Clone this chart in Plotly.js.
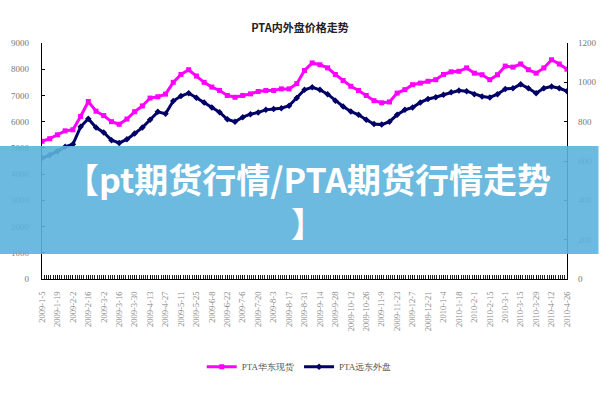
<!DOCTYPE html>
<html>
<head>
<meta charset="utf-8">
<script src="https://cdn.plot.ly/plotly-3.0.1.min.js"></script>
<style>
html,body{margin:0;padding:0;background:#fff;}
#chart{width:600px;height:400px;}
</style>
</head>
<body>
<div id="chart"></div>
<script>
// Weekly dates
var dates = [
 "2009-01-05","2009-01-12","2009-01-19","2009-01-26","2009-02-02","2009-02-09","2009-02-16","2009-02-23",
 "2009-03-02","2009-03-09","2009-03-16","2009-03-23","2009-03-30","2009-04-06","2009-04-13","2009-04-20",
 "2009-04-27","2009-05-04","2009-05-11","2009-05-18","2009-05-25","2009-06-01","2009-06-08","2009-06-15",
 "2009-06-22","2009-06-29","2009-07-06","2009-07-13","2009-07-20","2009-07-27","2009-08-03","2009-08-10",
 "2009-08-17","2009-08-24","2009-08-31","2009-09-07","2009-09-14","2009-09-21","2009-09-28","2009-10-05",
 "2009-10-12","2009-10-19","2009-10-26","2009-11-02","2009-11-09","2009-11-16","2009-11-23","2009-11-30",
 "2009-12-07","2009-12-14","2009-12-21","2009-12-28","2010-01-04","2010-01-11","2010-01-18","2010-01-25",
 "2010-02-01","2010-02-08","2010-02-15","2010-02-22","2010-03-01","2010-03-08","2010-03-15","2010-03-22",
 "2010-03-29","2010-04-05","2010-04-12","2010-04-19","2010-04-26"
];
// PTA domestic spot (RMB/t, left axis)
var domesticSpot = [
 5250,5350,5500,5650,5690,6200,6770,6400,6230,6000,5900,6100,6380,6600,6900,6950,
 7050,7500,7800,7980,7740,7500,7320,7190,7000,6930,7000,7060,7150,7190,7190,7250,
 7250,7450,7950,8240,8170,8050,7800,7570,7350,7190,7000,6800,6720,6750,7090,7220,
 7410,7470,7540,7600,7800,7900,7920,8050,7850,7790,7600,7790,8120,8080,8200,7980,
 7850,8050,8360,8200,8000
];
// PTA Far East outer market (USD/t, right axis)
var outerMarket = [
 615,630,650,672,685,774,815,770,745,706,692,710,740,770,810,850,
 840,905,930,945,922,898,872,848,812,800,823,838,847,860,864,868,
 881,920,962,975,962,940,906,877,852,835,810,788,785,800,835,860,
 872,898,915,924,937,949,958,955,940,928,923,940,966,970,990,970,
 945,970,979,970,955
];
var tickDates = [
 "2009-01-05","2009-01-19","2009-02-02","2009-02-16","2009-03-02","2009-03-16","2009-03-30","2009-04-13",
 "2009-04-27","2009-05-11","2009-05-25","2009-06-08","2009-06-22","2009-07-06","2009-07-20","2009-08-03",
 "2009-08-17","2009-08-31","2009-09-14","2009-09-28","2009-10-12","2009-10-26","2009-11-09","2009-11-23",
 "2009-12-07","2009-12-21","2010-01-04","2010-01-18","2010-02-01","2010-02-15","2010-03-01","2010-03-15",
 "2010-03-29","2010-04-12","2010-04-26"
];
var tickLabels = [
 "2009-1-5","2009-1-19","2009-2-2","2009-2-16","2009-3-2","2009-3-16","2009-3-30","2009-4-13",
 "2009-4-27","2009-5-11","2009-5-25","2009-6-8","2009-6-22","2009-7-6","2009-7-20","2009-8-3",
 "2009-8-17","2009-8-31","2009-9-14","2009-9-28","2009-10-12","2009-10-26","2009-11-9","2009-11-23",
 "2009-12-7","2009-12-21","2010-1-4","2010-1-18","2010-2-1","2010-2-15","2010-3-1","2010-3-15",
 "2010-3-29","2010-4-12","2010-4-26"
];
var seriesNames = ["PTA华东现货", "PTA远东外盘"];
var titleText = "PTA内外盘价格走势";
var bannerText = "【pt期货行情/PTA期货行情走势<br>】";

var tickFont = {family: "Liberation Serif, serif", size: 9, color: "#777"};

var traces = [
 {x: dates, y: domesticSpot, name: seriesNames[0], type: "scatter", mode: "lines+markers",
  line: {color: "#ff00ff", width: 3}, marker: {symbol: "square", size: 5, color: "#ff00ff"}, yaxis: "y"},
 {x: dates, y: outerMarket, name: seriesNames[1], type: "scatter", mode: "lines+markers",
  line: {color: "#000066", width: 3}, marker: {symbol: "diamond", size: 5, color: "#000066"}, yaxis: "y2"}
];

var layout = {
 width: 600, height: 400,
 margin: {l: 42, r: 33, t: 43, b: 121},
 paper_bgcolor: "#fff", plot_bgcolor: "#fff",
 showlegend: true,
 title: {text: "<b>" + titleText + "</b>", x: 0.5, xanchor: "center", y: 0.93, yanchor: "middle",
  font: {family: "Noto Sans CJK SC", size: 11, color: "#222"}},
 xaxis: {
  type: "date", range: [dates[0], dates[dates.length - 1]],
  tickmode: "array", tickvals: tickDates, ticktext: tickLabels, tickangle: -90,
  tickfont: {family: "Liberation Serif, serif", size: 8.5, color: "#888"},
  ticks: "inside", ticklen: 4, tickcolor: "#000", ticklabelstandoff: 8,
  minor: {ticks: "inside", dtick: 2 * 86400000, ticklen: 4, tickcolor: "#222", tickwidth: 1},
  showline: true, linecolor: "#000", linewidth: 1.2, showgrid: false, zeroline: false
 },
 yaxis: {
  range: [0, 9000], dtick: 1000, ticks: "inside", ticklen: 3, tickcolor: "#000",
  showline: true, linecolor: "#000", linewidth: 1.2, showgrid: false, zeroline: false,
  tickfont: tickFont, ticklabelstandoff: 10
 },
 yaxis2: {
  overlaying: "y", side: "right", range: [0, 1200], dtick: 200, ticks: "inside", ticklen: 3, tickcolor: "#000",
  showline: true, linecolor: "#000", linewidth: 1.2, showgrid: false, zeroline: false,
  tickfont: tickFont, ticklabelstandoff: 8
 },
 legend: {orientation: "h", x: 0.49, xanchor: "center", y: -0.31, yanchor: "top",
  font: {family: "Liberation Serif, serif", size: 9, color: "#555"}, bgcolor: "rgba(0,0,0,0)"},
 shapes: [
  {type: "rect", xref: "paper", yref: "paper", layer: "above",
   x0: -0.08, x1: 1.06, y0: (400 - 121 - 254) / 236, y1: (400 - 121 - 146) / 236,
   fillcolor: "rgba(92,178,220,0.9)", line: {width: 0}}
 ],
 annotations: [
  {text: "<b>" + bannerText + "</b>", xref: "paper", yref: "paper",
   x: (308 - 42) / 525, y: (400 - 121 - 200) / 236, xanchor: "center", yanchor: "middle",
   showarrow: false, font: {family: "Noto Sans CJK SC", size: 34, color: "#fff"}}
 ]
};

Plotly.newPlot("chart", traces, layout, {displayModeBar: false, staticPlot: true});
</script>
</body>
</html>
